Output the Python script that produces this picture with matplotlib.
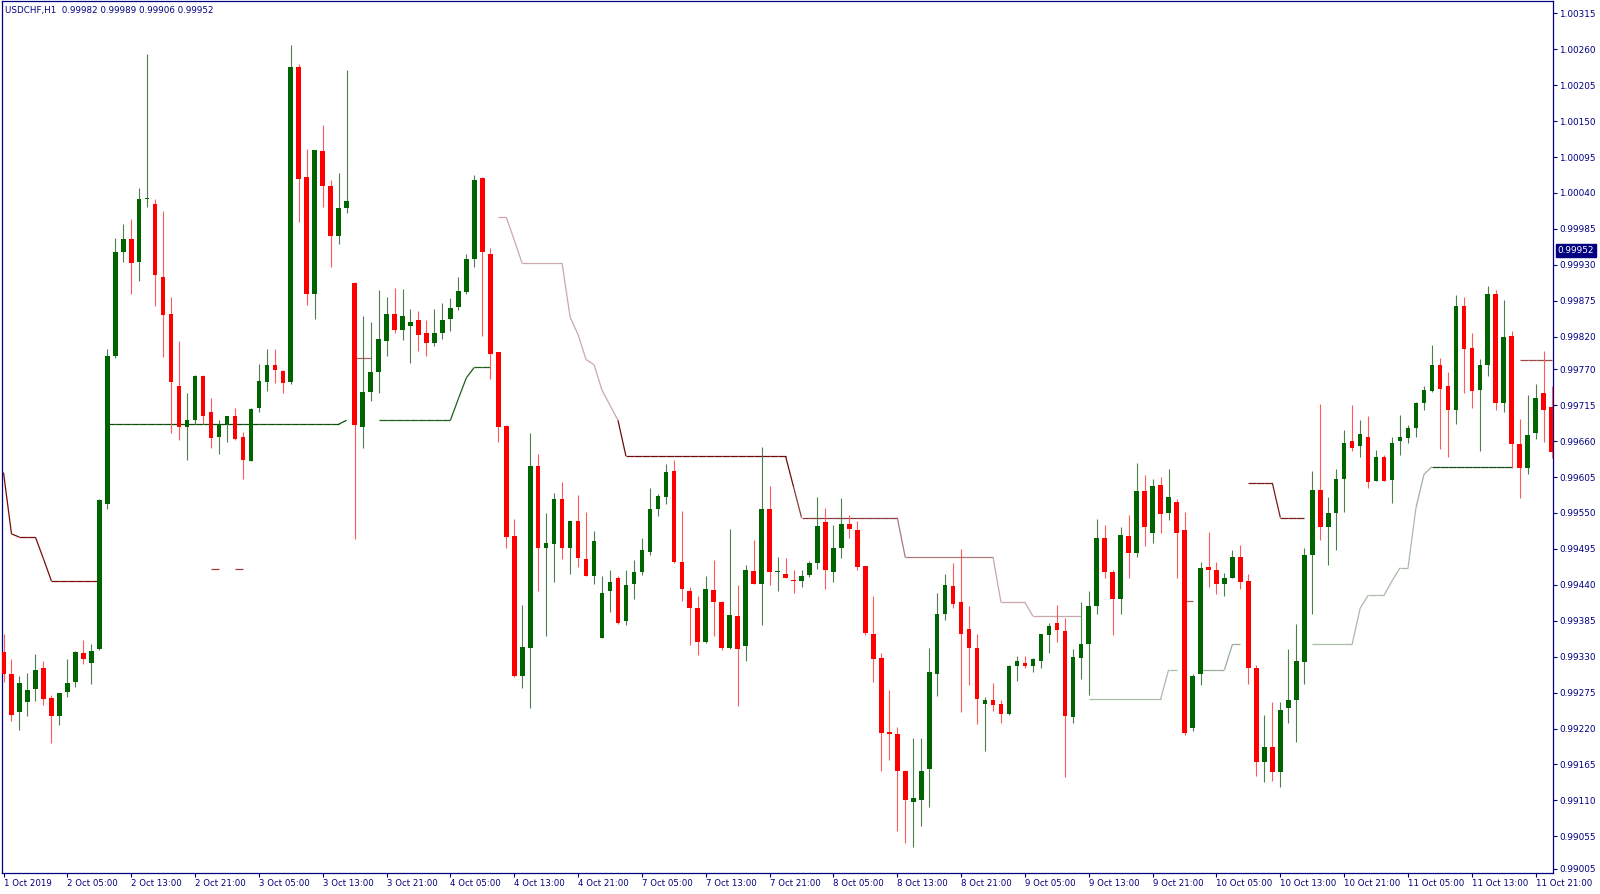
import numpy as np
import matplotlib
matplotlib.use('Agg')
import matplotlib.pyplot as plt
from matplotlib.transforms import blended_transform_factory

# USDCHF H1, first bar = 1 Oct 2019 21:00
time_labels = ['1 Oct 2019', '2 Oct 05:00', '2 Oct 13:00', '2 Oct 21:00', '3 Oct 05:00',
               '3 Oct 13:00', '3 Oct 21:00', '4 Oct 05:00', '4 Oct 13:00', '4 Oct 21:00',
               '7 Oct 05:00', '7 Oct 13:00', '7 Oct 21:00', '8 Oct 05:00', '8 Oct 13:00',
               '8 Oct 21:00', '9 Oct 05:00', '9 Oct 13:00', '9 Oct 21:00', '10 Oct 05:00',
               '10 Oct 13:00', '10 Oct 21:00', '11 Oct 05:00', '11 Oct 13:00', '11 Oct 21:00']
price_labels = ['1.00315', '1.00260', '1.00205', '1.00150', '1.00095', '1.00040', '0.99985',
                '0.99930', '0.99875', '0.99820', '0.99770', '0.99715', '0.99660', '0.99605',
                '0.99550', '0.99495', '0.99440', '0.99385', '0.99330', '0.99275', '0.99220',
                '0.99165', '0.99110', '0.99055', '0.99005']
header = 'USDCHF,H1  0.99982 0.99989 0.99906 0.99952'
bid = 0.99952

opens = [
    .99337, .99303, .99246, .99260, .99281, .99312, .99267, .99239, .99276, .99291,
    .99335, .99320, .99341, .99564, .99790, .99950, .99970, .99934, 1.00031, 1.00023,
    .99912, .99855, .99744, .99681, .99692, .99760, .99704, .99667, .99686, .99699,
    .99667, .99630, .99710, .99751, .99777, .99768, .99750, 1.00233, 1.00065, .99886,
    1.00104, 1.00051, .99974, 1.00017, .99902, .99682, .99736, .99766, .99814, .99854,
    .99830, .99836, .99845, .99825, .99811, .99825, .99847, .99866, .99889, .99939,
    1.00063, .99946, .99796, .99683, .99515, .99300, .99343, .99622, .99497, .99503,
    .99571, .99496, .99537, .99480, .99454, .99359, .99431, .99450, .99385, .99441,
    .99460, .99491, .99556, .99574, .99614, .99475, .99431, .99404, .99352, .99432,
    .99414, .99343, .99392, .99346, .99461, .99442, .99556, .99460, .99457, .99448,
    .99446, .99455, .99473, .99536, .99460, .99497, .99533, .99524, .99469, .99365,
    .99328, .99214, .99211, .99155, .99108, .99110, .99158, .99303, .99395, .99438,
    .99414, .99372, .99344, .99257, .99264, .99257, .99242, .99316, .99321, .99316,
    .99323, .99363, .99382, .99370, .99238, .99328, .99349, .99407, .99512, .99460,
    .99419, .99515, .99488, .99583, .99519, .99593, .99550, .99567, .99524, .99221,
    .99304, .99467, .99463, .99442, .99451, .99483, .99446, .99312, .99169, .99191,
    .99153, .99251, .99264, .99322, .99485, .99585, .99528, .99550, .99602, .99660,
    .99653, .99667, .99599, .99635, .99601, .99660, .99665, .99680, .99718, .99737,
    .99777, .99745, .99707, .99867, .99802, .99738, .99777, .99885, .99719, .99821,
    .99656, .99619, .99673, .99733, .99713]
highs = [
    .99364, .99327, .99300, .99305, .99334, .99323, .99272, .99275, .99326, .99339,
    .99355, .99350, .99572, .99801, .99971, .99993, 1.00000, 1.00048, 1.00253, 1.00031,
    1.00012, .99880, .99814, .99733, .99761, .99762, .99726, .99692, .99699, .99710,
    .99674, .99710, .99778, .99801, .99801, .99769, 1.00266, 1.00238, 1.00107, 1.00106,
    1.00144, 1.00060, 1.00071, 1.00228, .99903, .99852, .99842, .99891, .99881, .99894,
    .99893, .99862, .99859, .99845, .99862, .99872, .99879, .99912, .99947, 1.00067,
    1.00064, .99956, .99796, .99684, .99541, .99409, .99672, .99640, .99550, .99581,
    .99597, .99538, .99577, .99552, .99522, .99454, .99463, .99454, .99463, .99478,
    .99512, .99589, .99579, .99625, .99631, .99553, .99436, .99423, .99454, .99478,
    .99415, .99526, .99440, .99471, .99509, .99651, .99591, .99482, .99481, .99463,
    .99463, .99477, .99575, .99558, .99532, .99573, .99547, .99537, .99469, .99423,
    .99335, .99279, .99223, .99156, .99205, .99206, .99344, .99428, .99457, .99473,
    .99495, .99408, .99365, .99269, .99289, .99263, .99318, .99331, .99331, .99328,
    .99365, .99382, .99409, .99389, .99341, .99414, .99431, .99541, .99532, .99463,
    .99528, .99547, .99626, .99608, .99602, .99605, .99617, .99572, .99552, .99303,
    .99475, .99521, .99475, .99458, .99493, .99501, .99457, .99317, .99241, .99261,
    .99261, .99341, .99380, .99497, .99614, .99717, .99574, .99617, .99677, .99715,
    .99692, .99699, .99646, .99639, .99667, .99700, .99685, .99720, .99745, .99807,
    .99787, .99766, .99883, .99880, .99825, .99786, .99898, .99892, .99876, .99828,
    .99694, .99731, .99748, .99798, .99744]
lows = [
    .99291, .99231, .99217, .99239, .99262, .99256, .99198, .99226, .99269, .99284,
    .99319, .99288, .99340, .99556, .99788, .99934, .99886, .99905, 1.00018, .99867,
    .99789, .99672, .99661, .99631, .99686, .99686, .99649, .99641, .99658, .99662,
    .99602, .99629, .99705, .99737, .99749, .99733, .99747, .99995, .99868, .99847,
    1.00019, .99927, .99962, 1.00009, .99510, .99650, .99721, .99734, .99791, .99826,
    .99815, .99779, .99798, .99790, .99805, .99816, .99828, .99861, .99885, .99926,
    .99821, .99755, .99659, .99496, .99299, .99282, .99251, .99430, .99362, .99445,
    .99480, .99457, .99468, .99453, .99442, .99358, .99398, .99380, .99379, .99419,
    .99455, .99486, .99546, .99564, .99473, .99415, .99348, .99333, .99351, .99361,
    .99340, .99341, .99254, .99323, .99441, .99379, .99440, .99431, .99450, .99427,
    .99436, .99452, .99465, .99433, .99444, .99481, .99511, .99463, .99363, .99292,
    .99155, .99172, .99063, .99045, .99039, .99071, .99100, .99270, .99386, .99404,
    .99246, .99286, .99227, .99185, .99247, .99229, .99241, .99293, .99313, .99306,
    .99312, .99335, .99353, .99146, .99228, .99296, .99271, .99395, .99451, .99363,
    .99396, .99450, .99482, .99500, .99504, .99519, .99540, .99451, .99210, .99216,
    .99287, .99436, .99426, .99423, .99450, .99433, .99288, .99148, .99138, .99140,
    .99131, .99229, .99200, .99288, .99396, .99508, .99470, .99494, .99552, .99645,
    .99635, .99588, .99599, .99599, .99565, .99639, .99657, .99667, .99707, .99736,
    .99648, .99636, .99686, .99733, .99710, .99645, .99759, .99707, .99705, .99619,
    .99573, .99610, .99663, .99659, .99634]
closes = [
    .99303, .99240, .99290, .99279, .99310, .99265, .99239, .99274, .99290, .99337,
    .99327, .99339, .99570, .99790, .99950, .99970, .99933, 1.00031, 1.00032, .99914,
    .99853, .99750, .99681, .99693, .99759, .99699, .99665, .99686, .99699, .99663,
    .99631, .99709, .99752, .99777, .99769, .99749, 1.00233, 1.00062, .99886, 1.00106,
    1.00051, .99974, 1.00017, 1.00028, .99684, .99735, .99766, .99816, .99854, .99830,
    .99851, .99843, .99822, .99811, .99825, .99846, .99864, .99890, .99939, 1.00060,
    .99950, .99794, .99682, .99514, .99300, .99345, .99622, .99497, .99504, .99572,
    .99497, .99537, .99481, .99454, .99507, .99428, .99445, .99382, .99440, .99460,
    .99493, .99556, .99576, .99612, .99475, .99433, .99404, .99352, .99434, .99413,
    .99344, .99394, .99341, .99463, .99442, .99556, .99460, .99461, .99451, .99446,
    .99453, .99473, .99530, .99462, .99497, .99533, .99526, .99467, .99366, .99327,
    .99213, .99212, .99155, .99110, .99113, .99155, .99307, .99395, .99440, .99411,
    .99365, .99344, .99265, .99264, .99256, .99242, .99316, .99324, .99316, .99326,
    .99364, .99377, .99371, .99239, .99330, .99349, .99407, .99512, .99459, .99419,
    .99516, .99488, .99583, .99528, .99591, .99548, .99575, .99519, .99213, .99301,
    .99466, .99463, .99441, .99451, .99483, .99445, .99312, .99169, .99191, .99153,
    .99249, .99263, .99324, .99486, .99585, .99528, .99550, .99602, .99657, .99649,
    .99671, .99598, .99635, .99599, .99657, .99666, .99680, .99719, .99738, .99777,
    .99740, .99707, .99867, .99801, .99737, .99777, .99886, .99718, .99819, .99656,
    .99619, .99669, .99726, .99707, .99644]

# trailing stop indicator, one value per bar (None = not drawn)
stop_dn = ([.99612, .99518] + [.99513] * 3 + [.99480] + [.99446] * 7 + [None] * 13
           + [.99465] * 2 + [None] + [.99465] * 2 + [None] * 13 + [.99787] * 3 + [None] * 15
           + [1.00003] * 2 + [.99968] + [.99932] * 6
           + [.99850, .99823, .99785, .99777, .99738, .99715, .99692]
           + [.99637] * 21 + [.99590] + [.99543] * 13 + [.99482] * 12 + [.99413] * 4
           + [.99392] * 7 + [None] * 12 + [.99416] * 2 + [None] * 6 + [.99596] * 4
           + [.99543] * 4 + [None] * 26 + [.99784] * 5)
stop_up = ([None] * 13 + [.99686] * 30 + [.99692] + [None] * 3 + [.99692] * 10
           + [.99725, .99757] + [.99773] * 3 + [None] * 74 + [.99265] * 10 + [.99310] * 2
           + [None] * 2 + [.99310] * 4 + [.99349] * 2 + [None] * 8 + [.99349] * 6
           + [.99404] + [.99424] * 3 + [.99446] + [.99466] * 2 + [.99558, .99609]
           + [.99621] * 11 + [None] * 5)

# segment colours (first bar, last bar, colour)
dn_colors = [(0, 12, '#7a0a0a'), (26, 30, '#a04040'), (44, 46, '#b06060'),
             (62, 77, '#c9a9a9'), (77, 99, '#6e0b0b'), (99, 112, '#8a3c3c'),
             (112, 124, '#a87a7a'), (124, 135, '#c7a7a7'), (148, 149, '#a06060'),
             (156, 163, '#7a1a1a'), (190, 194, '#a04a4a')]
up_colors = [(13, 43, '#0b4f0b'), (47, 61, '#1d5e1d'), (136, 147, '#a9bba9'),
             (150, 155, '#98ae98'), (164, 177, '#a9bba9'), (177, 179, '#9fb39f'),
             (179, 189, '#1a4a1a')]

navy = '#000080'

fig = plt.figure(figsize=(16, 8.94), dpi=100)
ax = fig.add_axes([2 / 1600, 21 / 894, 1551 / 1600, 872 / 894])

x = np.arange(len(closes))
o = np.array(opens)
h = np.array(highs)
l = np.array(lows)
c = np.array(closes)
up = c >= o


def seg_color(table, i):
    for a, b, col in table:
        if a <= i < b:
            return col
    return table[-1][2]


def draw_stop(vals, table):
    for i in range(len(vals) - 1):
        if vals[i] is None or vals[i + 1] is None:
            continue
        ax.plot([i, i + 1], [vals[i], vals[i + 1]], color=seg_color(table, i),
                lw=0.9, zorder=2, solid_capstyle='butt')


draw_stop(stop_dn, dn_colors)
draw_stop(stop_up, up_colors)

# candles
wick_cols = np.where(up, '#4f7f4f', '#ff5a5a')
ax.vlines(x, l, h, colors=wick_cols, lw=0.8, zorder=3)
body_h = np.maximum(np.abs(c - o), 1.6e-5)
body_b = np.minimum(o, c)
ax.bar(x, body_h, bottom=body_b, width=0.58, color=np.where(up, '#006400', '#ff0000'),
       linewidth=0, zorder=4)

ax.set_xlim(-0.19, 194.17)
ax.set_ylim(0.989988, 1.003339)

ax.yaxis.tick_right()
ax.set_yticks([float(s) for s in price_labels])
ax.set_yticklabels(price_labels)
ax.tick_params(axis='y', direction='out', length=3, width=0.8, color=navy,
               labelcolor=navy, labelsize=6.4, pad=1.5)
ax.set_xticks(np.arange(0, 8 * len(time_labels), 8))
ax.set_xticklabels(time_labels, ha='left')
ax.tick_params(axis='x', direction='out', length=3, width=0.8, color=navy,
               labelcolor=navy, labelsize=6.2, pad=1.5)
for sp in ax.spines.values():
    sp.set_color(navy)
    sp.set_linewidth(0.9)

fig.text(5 / 1600, 1 - 11 / 894, header, fontsize=6.3, color=navy, va='center', ha='left')

trans = blended_transform_factory(ax.transAxes, ax.transData)
ax.text(1.0028, bid, '%.5f' % bid, transform=trans, fontsize=6.4, color='white',
        va='center', ha='left', clip_on=False, zorder=10,
        bbox=dict(boxstyle='square,pad=0.2', fc=navy, ec=navy))

plt.savefig('out.png', dpi=100)
